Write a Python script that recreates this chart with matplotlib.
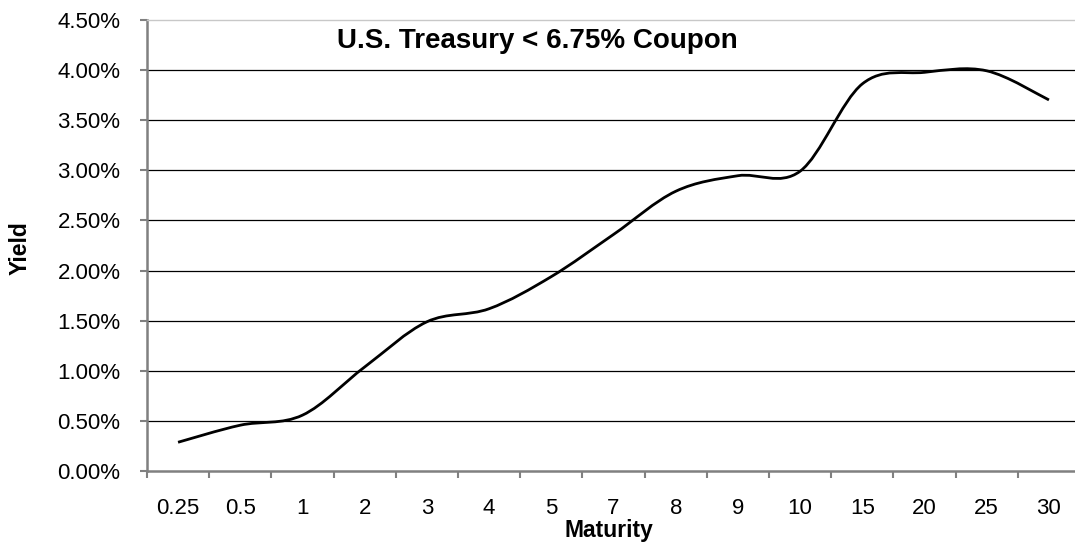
import matplotlib
matplotlib.use("Agg")
import matplotlib.pyplot as plt
import numpy as np
from matplotlib.path import Path
from matplotlib.patches import PathPatch
from matplotlib.ticker import FixedLocator, FuncFormatter

# yield curve readings (percent)
maturities = ["0.25", "0.5", "1", "2", "3", "4", "5", "7", "8", "9", "10", "15", "20", "25", "30"]
yields_pct = [0.29, 0.46, 0.56, 1.04, 1.49, 1.62, 1.94, 2.36, 2.79, 2.945, 2.99, 3.86, 3.975, 3.99, 3.70]

TITLE = "U.S. Treasury < 6.75% Coupon"
FONT = "Liberation Sans"


def smooth_path(xs, ys):
    # excel-style smoothed line: cubic bezier with catmull-rom tangents
    pts = np.column_stack([xs, ys]).astype(float)
    padded = np.vstack([pts[0], pts, pts[-1]])
    verts = [pts[0]]
    codes = [Path.MOVETO]
    for i in range(len(pts) - 1):
        p0, p1, p2, p3 = padded[i], padded[i + 1], padded[i + 2], padded[i + 3]
        c1 = p1 + (p2 - p0) / 6.0
        c2 = p2 - (p3 - p1) / 6.0
        verts += [c1, c2, p2]
        codes += [Path.CURVE4] * 3
    return Path(verts, codes)


def main():
    plt.rcParams["font.family"] = [FONT, "DejaVu Sans"]

    fig = plt.figure(figsize=(10.75, 5.42), dpi=100)
    ax = fig.add_axes([0.1367, 0.1303, 0.868, 0.8335])

    xs = np.arange(len(maturities))
    patch = PathPatch(smooth_path(xs, yields_pct), facecolor="none",
                      edgecolor="black", lw=2.0, zorder=3, capstyle="butt")
    ax.add_patch(patch)

    ax.set_xlim(-0.5, len(maturities) - 0.5)
    ax.set_ylim(0, 4.5)

    # category boundaries get the tick marks, labels sit at centres
    ax.xaxis.set_major_locator(FixedLocator(np.arange(len(maturities) + 1) - 0.5))
    ax.xaxis.set_major_formatter(FuncFormatter(lambda v, p: ""))
    ax.xaxis.set_minor_locator(FixedLocator(xs))
    ax.set_xticklabels(maturities, minor=True)
    ax.tick_params(axis="x", which="major", direction="out", length=5, width=1.5, color="#808080")
    ax.tick_params(axis="x", which="minor", length=0, pad=19, labelsize=16)

    ax.set_yticks(np.arange(0, 4.51, 0.5))
    ax.yaxis.set_major_formatter(FuncFormatter(lambda v, p: f"{v:.2f}%"))
    ax.tick_params(axis="y", direction="out", length=5, width=1.5, color="#808080",
                   labelsize=16, pad=14)

    for v in np.arange(0.5, 4.01, 0.5):
        ax.axhline(v, color="black", lw=0.9, zorder=1)

    ax.spines["right"].set_visible(False)
    ax.spines["top"].set_color("#c8c8c8")
    ax.spines["top"].set_linewidth(1.0)
    ax.spines["left"].set_color("#808080")
    ax.spines["left"].set_linewidth(1.8)
    ax.spines["bottom"].set_color("#808080")
    ax.spines["bottom"].set_linewidth(1.8)

    fig.text(0.5, 1 - 41 / 542, TITLE, ha="center", va="center",
             fontsize=20, fontweight="bold")
    fig.text(609 / 1075, 1 - 531 / 542, "Maturity", ha="center", va="center",
             fontsize=16.5, fontweight="bold")
    fig.text(20.5 / 1075, 1 - 248 / 542, "Yield", ha="center", va="center",
             rotation=90, fontsize=16.5, fontweight="bold")

    fig.savefig("out.png", dpi=100, facecolor="white")
    plt.close(fig)


if __name__ == "__main__":
    main()
